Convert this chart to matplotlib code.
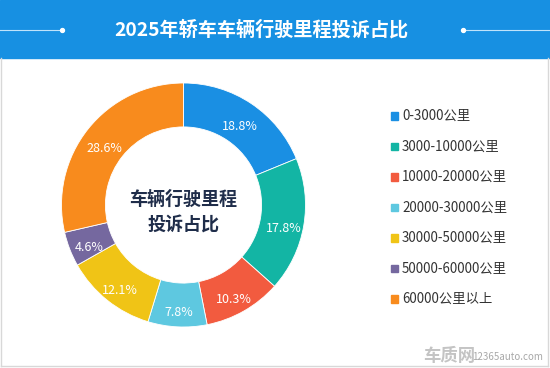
import numpy as np
import matplotlib
matplotlib.use('Agg')
import matplotlib.pyplot as plt
from matplotlib.patches import Rectangle

plt.rcParams['font.family'] = ['Noto Sans CJK SC', 'DejaVu Sans']

# 数据
title = '2025年轿车车辆行驶里程投诉占比'
center_text = '车辆行驶里程\n投诉占比'
categories = ['0-3000公里', '3000-10000公里', '10000-20000公里', '20000-30000公里',
              '30000-50000公里', '50000-60000公里', '60000公里以上']
shares = [18.8, 17.8, 10.3, 7.8, 12.1, 4.6, 28.6]
colors = ['#1a8fe3', '#13b5a4', '#f25b3f', '#5ec8e0', '#f0c416', '#75689f', '#f88b1d']

W, H = 550, 368
fig = plt.figure(figsize=(W / 100, H / 100), dpi=100)
fig.patch.set_facecolor('white')

# 背景层（像素坐标）
bg = fig.add_axes([0, 0, 1, 1])
bg.set_xlim(0, W)
bg.set_ylim(H, 0)
bg.axis('off')
bg.add_patch(Rectangle((0, 0), W, 58, color='#1790e2', zorder=1))
bg.plot([1, 1], [58, 366], color='#d8d8d8', lw=1)
bg.plot([548, 548], [58, 366], color='#d8d8d8', lw=1)
bg.plot([1, 548], [366, 366], color='#d8d8d8', lw=1)
bg.plot([0, 62], [30, 30], color='#bfe3fb', lw=0.8, zorder=2)
bg.plot([463, 550], [30, 30], color='#bfe3fb', lw=0.8, zorder=2)
bg.scatter([62, 463], [30, 30], s=8, color='white', zorder=3)
bg.text(261, 30, title, color='white', fontsize=13.8, fontweight='bold',
        ha='center', va='center', zorder=3)

# 图例
for i, (cat, col) in enumerate(zip(categories, colors)):
    y = 116 + i * 30.5
    bg.add_patch(Rectangle((390.5, y - 3.8), 7.5, 7.5, color=col))
    bg.text(402, y, cat, fontsize=9.6, color='#333333', ha='left', va='center')

# 水印
bg.text(423, 356, '车质网', fontsize=12.5, fontweight='bold', color='#c4c4c4',
        ha='left', va='center')
bg.text(472, 357, '12365auto.com', fontsize=7, color='#a8a8a8',
        ha='left', va='center')

# 环形图
cx, cy, r = 183.5, 205, 122
ax = fig.add_axes([(cx - r) / W, (H - cy - r) / H, 2 * r / W, 2 * r / H])
wedges, texts = ax.pie(shares, colors=colors, startangle=90, counterclock=False,
                       radius=1, wedgeprops=dict(width=0.36, edgecolor='white', linewidth=0.6))
ax.set_xlim(-1, 1)
ax.set_ylim(-1, 1)
ax.axis('off')
for w, v in zip(wedges, shares):
    ang = np.deg2rad((w.theta1 + w.theta2) / 2)
    ax.text(0.83 * np.cos(ang), 0.83 * np.sin(ang) - 0.05, f'{v}%', color='white',
            fontsize=9, ha='center', va='center')
ax.text(0, -0.06, center_text, fontsize=13, fontweight='bold', color='#1f2d4a',
        ha='center', va='center', linespacing=1.45)

fig.savefig('out.png', dpi=100, facecolor='white')
